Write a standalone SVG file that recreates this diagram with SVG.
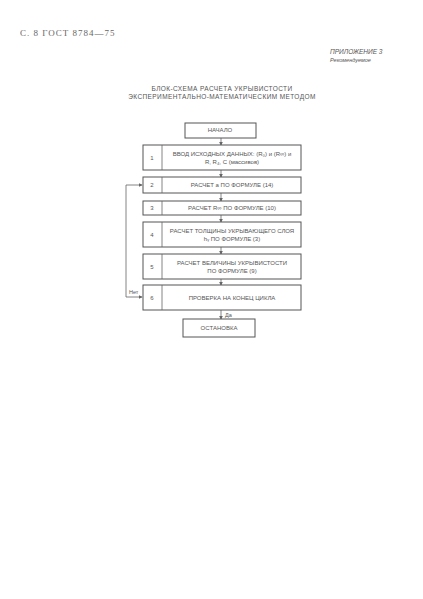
<svg xmlns="http://www.w3.org/2000/svg" width="423" height="599" viewBox="0 0 423 599">
<style>
text{font-family:"Liberation Sans",Arial,sans-serif;fill:#555;font-size:6px}
.b{fill:#fff;stroke:#555;stroke-width:1}
.l{stroke:#666;stroke-width:0.8;fill:none}
.c{text-anchor:middle}
</style>
<defs>
<marker id="a" viewBox="0 0 6 6" refX="5" refY="3" markerWidth="5" markerHeight="5" orient="auto"><path d="M0,0L6,3L0,6z" fill="#666"/></marker>
</defs>
<rect width="423" height="599" fill="#fff"/>
<text x="20" y="36" style="font-size:9px;letter-spacing:1px;font-family:'Liberation Serif',serif;fill:#666">С. 8 ГОСТ 8784—75</text>
<text x="330" y="54" style="font-size:6.5px;font-style:italic">ПРИЛОЖЕНИЕ 3</text>
<text x="330" y="62" style="font-size:5.5px;font-style:italic">Рекомендуемое</text>
<text class="c" x="222" y="91" style="font-size:6.5px;letter-spacing:0.4px">БЛОК-СХЕМА РАСЧЕТА УКРЫВИСТОСТИ</text>
<text class="c" x="222" y="99" style="font-size:6.5px;letter-spacing:0.4px">ЭКСПЕРИМЕНТАЛЬНО-МАТЕМАТИЧЕСКИМ МЕТОДОМ</text>
<g id="connectors">
<line class="l" x1="221" y1="138" x2="221" y2="145" marker-end="url(#a)"/>
<line class="l" x1="221" y1="170" x2="221" y2="177" marker-end="url(#a)"/>
<line class="l" x1="221" y1="193" x2="221" y2="201" marker-end="url(#a)"/>
<line class="l" x1="221" y1="215" x2="221" y2="222" marker-end="url(#a)"/>
<line class="l" x1="221" y1="247" x2="221" y2="254" marker-end="url(#a)"/>
<line class="l" x1="221" y1="279" x2="221" y2="285" marker-end="url(#a)"/>
<line class="l" x1="221" y1="310" x2="221" y2="319" marker-end="url(#a)"/>
<polyline class="l" points="126,297 126,185 142,185" marker-end="url(#a)"/>
<polyline class="l" points="126,297 142,297" marker-end="url(#a)"/>
<text x="129" y="294" style="font-size:5.5px">Нет</text>
<text x="225" y="317" style="font-size:5.5px">Да</text>
</g>
<g id="start"><rect class="b" x="185" y="123" width="71" height="15"/><text class="c" x="220" y="132">НАЧАЛО</text></g>
<g id="n1"><rect class="b" x="143" y="145" width="158" height="25"/><line class="l" x1="162" y1="145" x2="162" y2="170"/><text class="c" x="152" y="160">1</text><text class="c" x="232" y="156">ВВОД ИСХОДНЫХ ДАННЫХ: (R₀) и (R∞) и</text><text class="c" x="232" y="164">R, R₄, C (массивов)</text></g>
<g id="n2"><rect class="b" x="143" y="177" width="158" height="16"/><line class="l" x1="162" y1="177" x2="162" y2="193"/><text class="c" x="152" y="187">2</text><text class="c" x="232" y="187">РАСЧЕТ a ПО ФОРМУЛЕ (14)</text></g>
<g id="n3"><rect class="b" x="143" y="201" width="158" height="14"/><line class="l" x1="162" y1="201" x2="162" y2="215"/><text class="c" x="152" y="210">3</text><text class="c" x="232" y="210">РАСЧЕТ R∞ ПО ФОРМУЛЕ (10)</text></g>
<g id="n4"><rect class="b" x="143" y="222" width="158" height="25"/><line class="l" x1="162" y1="222" x2="162" y2="247"/><text class="c" x="152" y="237">4</text><text class="c" x="232" y="233">РАСЧЕТ ТОЛЩИНЫ УКРЫВАЮЩЕГО СЛОЯ</text><text class="c" x="232" y="241">hᵧ ПО ФОРМУЛЕ (3)</text></g>
<g id="n5"><rect class="b" x="143" y="254" width="158" height="25"/><line class="l" x1="162" y1="254" x2="162" y2="279"/><text class="c" x="152" y="269">5</text><text class="c" x="232" y="265">РАСЧЕТ ВЕЛИЧИНЫ УКРЫВИСТОСТИ</text><text class="c" x="232" y="273">ПО ФОРМУЛЕ (9)</text></g>
<g id="n6"><rect class="b" x="143" y="285" width="158" height="25"/><line class="l" x1="162" y1="285" x2="162" y2="310"/><text class="c" x="152" y="300">6</text><text class="c" x="232" y="300">ПРОВЕРКА НА КОНЕЦ ЦИКЛА</text></g>
<g id="end"><rect class="b" x="183" y="319" width="72" height="18"/><text class="c" x="219" y="330">ОСТАНОВКА</text></g>
</svg>
